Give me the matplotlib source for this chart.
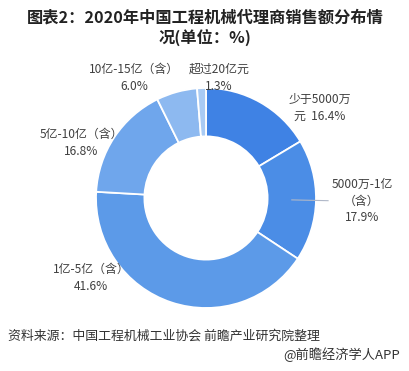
import numpy as np
import matplotlib.pyplot as plt

plt.rcParams['font.family'] = ['Noto Sans CJK SC', 'DejaVu Sans']

# data, clockwise from 12 o'clock
labels = ['少于5000万\n元  16.4%', '5000万-1亿\n（含）\n17.9%', '1亿-5亿（含）\n41.6%',
          '5亿-10亿（含）\n16.8%', '10亿-15亿（含）\n6.0%', '超过20亿元\n1.3%']
shares = [16.4, 17.9, 41.6, 16.8, 6.0, 1.3]
colors = ['#3f82e4', '#4b8de6', '#5c9ae8', '#6fa6ec', '#8db9f0', '#a9cbf4']
title_lines = ['图表2：2020年中国工程机械代理商销售额分布情', '况(单位：%)']

# label centres in pixels (x, y from top)
label_pos = [(320, 108), (362, 201), (91, 278), (81, 143), (134, 78), (219, 78)]

W, H = 410, 371
fig = plt.figure(figsize=(W / 100, H / 100), dpi=100)
ax = fig.add_axes([0, 0, 1, 1])
ax.axis('off')

cx, cy, r = 206, H - 198, 110
wedges, _ = ax.pie(shares, colors=colors, startangle=90, counterclock=False,
                   center=(cx, cy), radius=r,
                   wedgeprops=dict(width=r * 0.44, edgecolor='white', linewidth=1.3))
ax.set_xlim(0, W)
ax.set_ylim(0, H)
ax.set_aspect('equal')

for lab, (px, py) in zip(labels, label_pos):
    ax.text(px, H - py, lab, ha='center', va='center', fontsize=8.6,
            color='#404040', linespacing=1.4)

# leader line for the 5000万-1亿 slice
w = wedges[1]
mid = np.deg2rad((w.theta1 + w.theta2) / 2)
ax.plot([cx + r * 0.78 * np.cos(mid), cx + r * 1.11 * np.cos(mid)],
        [cy + r * 0.78 * np.sin(mid), cy + r * 1.11 * np.sin(mid)],
        color='#b0b8c8', lw=0.8)

# title lines, both centred
for line, ty in zip(title_lines, [18, 38]):
    ax.text(W / 2, H - ty, line, ha='center', va='center', fontsize=11.7,
            fontweight='bold', color='#222222')
fig.text(8 / W, 1 - 336 / H, '资料来源：中国工程机械工业协会 前瞻产业研究院整理',
         ha='left', va='center', fontsize=9.3, color='#333333')
fig.text(400 / W, 1 - 355 / H, '@前瞻经济学人APP',
         ha='right', va='center', fontsize=9.5, color='#333333')

fig.savefig('out.png', dpi=100, facecolor='white')
